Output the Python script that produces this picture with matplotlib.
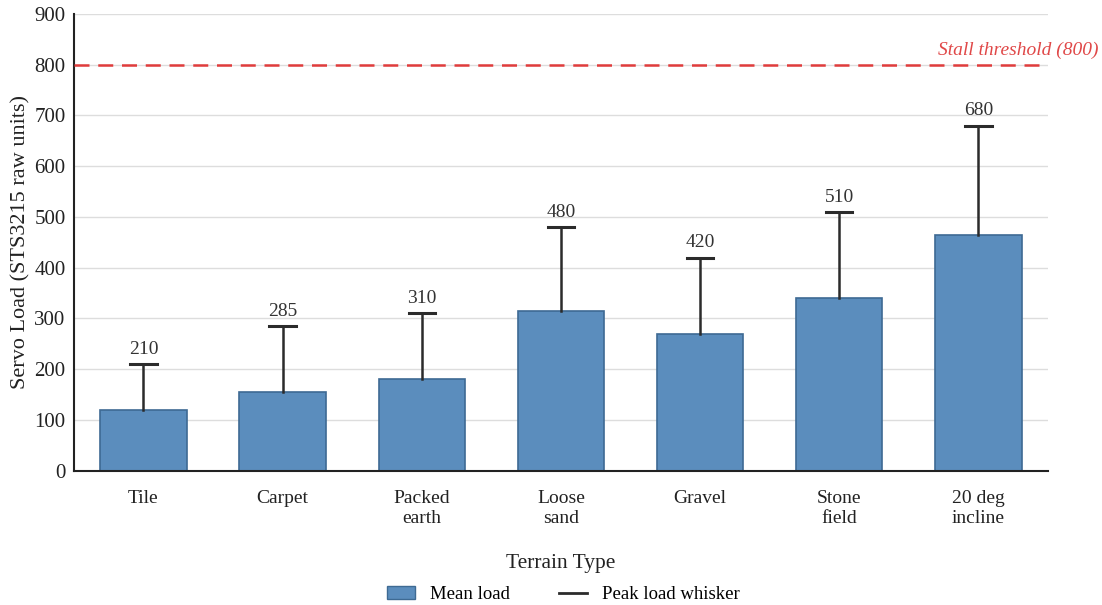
import numpy as np
import matplotlib.pyplot as plt
from matplotlib.lines import Line2D
from matplotlib.patches import Patch

plt.rcParams['font.family'] = ['Liberation Serif', 'DejaVu Serif']

terrains = ['Tile', 'Carpet', 'Packed\nearth', 'Loose\nsand', 'Gravel', 'Stone\nfield', '20 deg\nincline']
mean_load = [120, 155, 180, 315, 270, 340, 465]
peak_load = [210, 285, 310, 480, 420, 510, 680]
stall = 800

fig, ax = plt.subplots(figsize=(11.02, 6.05), dpi=100)
fig.subplots_adjust(left=0.067, right=0.951, top=0.977, bottom=0.222)

x = np.arange(len(terrains))
ax.bar(x, mean_load, width=0.62, color='#5b8dbd', edgecolor='#3e6a93', linewidth=1.2, zorder=2)

# whiskers from bar top up to peak
for xi, m, p in zip(x, mean_load, peak_load):
    ax.plot([xi, xi], [m, p], color='#2b2b2b', lw=1.8, zorder=3)
    ax.plot([xi - 0.095, xi + 0.095], [p, p], color='#2b2b2b', lw=2.2, zorder=3)
    ax.text(xi, p + 12, str(p), ha='center', va='bottom', fontsize=14, color='#333333')

ax.axhline(stall, color='#e03c3c', ls=(0, (6, 3.5)), lw=1.8, zorder=3)
ax.text(1.052, stall + 12, 'Stall threshold (800)', ha='right', va='bottom',
        fontsize=14, style='italic', color='#e04848',
        transform=ax.get_yaxis_transform())

ax.set_xlim(-0.5, 6.5)
ax.set_ylim(0, 900)
ax.set_yticks(range(0, 901, 100))
ax.set_xticks(x)
ax.set_xticklabels(terrains, fontsize=14, color='#222222', linespacing=1.25)
ax.tick_params(axis='y', labelsize=15, labelcolor='#222222', length=0, pad=6)
ax.tick_params(axis='x', length=0, pad=14)
ax.yaxis.grid(True, color='#dddddd', lw=1, zorder=0)
ax.set_axisbelow(True)
for s in ['top', 'right']:
    ax.spines[s].set_visible(False)
for s in ['left', 'bottom']:
    ax.spines[s].set_color('#222222')
    ax.spines[s].set_linewidth(1.5)

ax.set_xlabel('Terrain Type', fontsize=15.5, labelpad=19, color='#222222')
ax.set_ylabel('Servo Load (STS3215 raw units)', fontsize=16, color='#222222', labelpad=3)

handles = [Patch(facecolor='#5b8dbd', edgecolor='#3e6a93', label='Mean load'),
           Line2D([0], [0], color='#2b2b2b', lw=2, label='Peak load whisker')]
fig.legend(handles=handles, loc='lower center', ncol=2, frameon=False, fontsize=13.5,
           bbox_to_anchor=(0.511, -0.025), columnspacing=2.6, handlelength=1.5)

fig.savefig('out.png', dpi=100)
